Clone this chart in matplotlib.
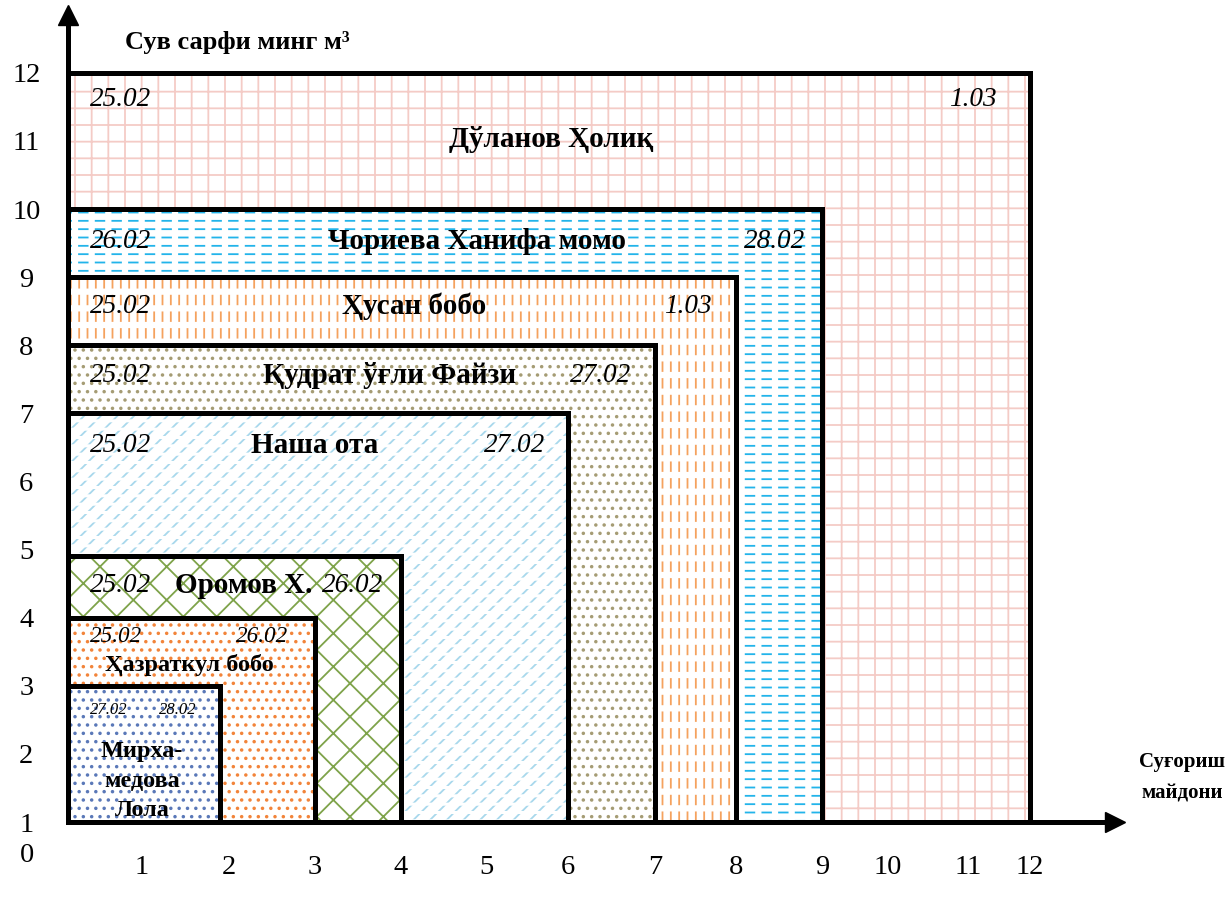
import numpy as np
import matplotlib
matplotlib.use("Agg")
import matplotlib.pyplot as plt

plt.rcParams['font.family'] = ['Liberation Serif', 'DejaVu Serif']
plt.rcParams['hatch.linewidth'] = 1.3

# farmers: irrigated area (x) and water use (y), drawn from largest to smallest
names = ["Дўланов Ҳолиқ", "Чориева Ханифа момо", "Ҳусан бобо", "Қудрат ўғли Файзи",
         "Наша ота", "Оромов Х.", "Ҳазраткул бобо", "Мирха-\nмедова\nЛола"]
area = [12, 9, 8, 7, 6, 4, 3, 1.9]
water = [12, 10, 9, 8, 7, 4.9, 4, 3]
start_date = ["25.02", "26.02", "25.02", "25.02", "25.02", "25.02", "25.02", "27.02"]
end_date = ["1.03", "28.02", "1.03", "27.02", "27.02", "26.02", "26.02", "28.02"]

hatches = ["+", "--", "||", "..", "//", "x", "..", ".."]
hatch_colors = ["#f4cbc6", "#22b4ea", "#f5a25e", "#a59c74", "#a8d8ec", "#7ea34a", "#f2843a", "#5a78b8"]
# white strokes laid over some patterns to break the lines into dashes
breaks = [None, "|", "-", None, "--", None, None, None]
break_width = [0, 4.5, 4.5, 0, 2.2, 0, 0, 0]

# positions of the text inside each box (data units)
name_xy = [(5.8, 11.02), (4.89, 9.53), (4.15, 8.57), (3.87, 7.55),
           (2.99, 6.53), (2.17, 4.48), (1.54, 3.30), (1.0, 1.6)]
start_xy = [(0.3, 11.61), (0.3, 9.53), (0.3, 8.57), (0.3, 7.55),
            (0.3, 6.53), (0.3, 4.48), (0.3, 3.72), (0.3, 2.64)]
end_xy = [(11.08, 11.61), (8.45, 9.53), (7.41, 8.57), (6.37, 7.55),
          (5.35, 6.53), (3.44, 4.48), (2.38, 3.72), (1.41, 2.64)]
name_size = [21, 21, 21, 21, 21, 21, 17.5, 17.5]
date_size = [19.5, 19.5, 19.5, 19.5, 19.5, 19.5, 16.7, 12]

# the hand drawn x axis is not uniform: pixel position of each tick label
x_ticks = np.arange(0, 13)
x_tick_px = [68, 142, 229, 315, 401, 486, 568, 655, 736, 822, 888, 968, 1030]
x_ext = np.append(x_ticks, 14)
x_ext_px = np.append(x_tick_px, 1030 + 2 * 66)


def fwd(x):
    return np.interp(x, x_ext, x_ext_px)


def inv(p):
    return np.interp(p, x_ext_px, x_ext)


fig = plt.figure(figsize=(12.28, 9.06), dpi=100)
W, H = 1228, 906
ax = fig.add_axes([68 / W, (H - 822) / H, (1115 - 68) / W, (822 - 15) / H])
ax.set_xscale('function', functions=(fwd, inv))
ax.set_xlim(0, inv(1115))
ax.set_ylim(1.07, 12.85)

for i in range(len(names)):
    ax.bar(0, water[i], width=area[i], align='edge', color='white',
           edgecolor=hatch_colors[i], hatch=hatches[i], linewidth=0, zorder=2 + 3 * i)
    if breaks[i]:
        cut = ax.bar(0, water[i], width=area[i], align='edge', fill=False,
                     edgecolor='white', hatch=breaks[i], linewidth=0, zorder=3 + 3 * i)
        for p in cut.patches:
            if hasattr(p, 'set_hatch_linewidth'):
                p.set_hatch_linewidth(break_width[i])
    ax.bar(0, water[i], width=area[i], align='edge', fill=False,
           edgecolor='black', linewidth=3.6, zorder=4 + 3 * i)
    z = 40
    ax.text(*name_xy[i], names[i], ha='center', va='center', fontsize=name_size[i],
            fontweight='bold', zorder=z, linespacing=1.55)
    ax.text(*start_xy[i], start_date[i], ha='left', va='center', fontsize=date_size[i],
            style='italic', zorder=z)
    ax.text(*end_xy[i], end_date[i], ha='center', va='center', fontsize=date_size[i],
            style='italic', zorder=z)

# axes with arrows
for s in ['top', 'right']:
    ax.spines[s].set_visible(False)
for s in ['left', 'bottom']:
    ax.spines[s].set_linewidth(3.6)
    ax.spines[s].set_zorder(50)
ax.plot(0, 1, marker='^', color='black', markersize=14, transform=ax.transAxes,
        clip_on=False, zorder=51)
ax.plot(1, 0, marker='>', color='black', markersize=14, transform=ax.transAxes,
        clip_on=False, zorder=51)

ax.set_xticks(x_ticks[1:])
ax.set_xticklabels([str(t) for t in x_ticks[1:]], fontsize=20.5)
ax.set_yticks(np.arange(1, 13))
ax.set_yticklabels([str(t) for t in range(1, 13)], fontsize=20.5)
ax.tick_params(axis='x', length=0, pad=24)
ax.tick_params(axis='y', length=0, pad=30)
for lbl in ax.get_yticklabels():
    lbl.set_horizontalalignment('center')

fig.text(27 / W, 1 - 856 / H, "0", ha='center', va='center', fontsize=20.5)
fig.text(237 / W, 1 - 43 / H, "Сув сарфи минг м³", ha='center', va='center',
         fontsize=19, fontweight='bold')
fig.text(1182 / W, 1 - 778 / H, "Суғориш\nмайдони", ha='center', va='center',
         fontsize=15, fontweight='bold', linespacing=1.75)

fig.savefig("out.png", dpi=100)
